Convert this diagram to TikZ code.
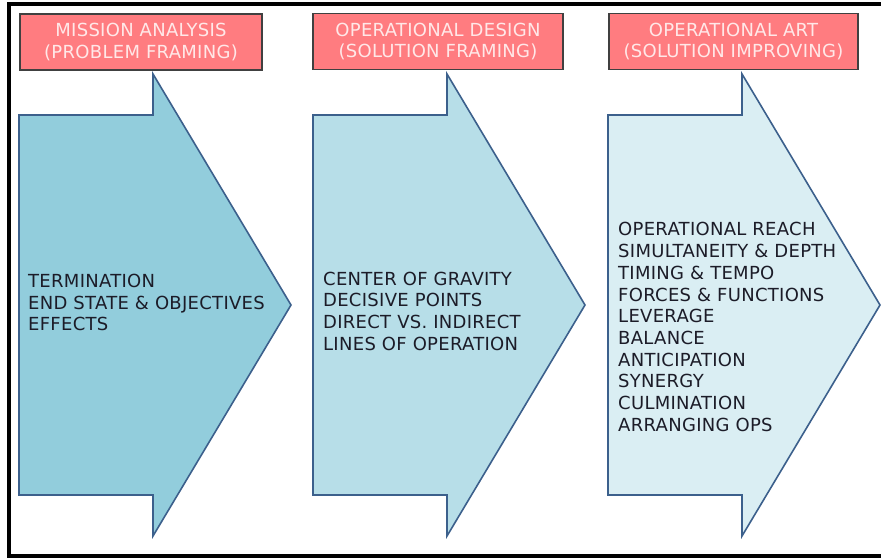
\documentclass[tikz,border=0pt]{standalone}
\usepackage{fontspec}
\setmainfont{DejaVu Sans}[LetterSpace=1.6]
\usepackage{xcolor}
\definecolor{phaseone}{RGB}{146,205,220}
\definecolor{phasetwo}{RGB}{183,222,232}
\definecolor{phasethree}{RGB}{218,238,243}
\definecolor{phaseedge}{RGB}{60,96,140}
\definecolor{bannerred}{RGB}{255,124,128}
\definecolor{banneredge}{RGB}{64,64,64}
\definecolor{bannertext}{RGB}{255,232,232}
\definecolor{itemtext}{RGB}{28,28,40}
\usepackage{tikz}
\newcommand{\bodylength}{134}
\newcommand{\headlength}{138}
\newcommand{\headextend}{41}
\newcommand{\headhalf}{231}
\newcommand{\phasearrow}[2]{%
    \draw[phase, fill=#2] (#1,115) -- ++(\bodylength,0) -- ++(0,-\headextend)
        -- ++(\headlength,\headhalf) -- ++(-\headlength,\headhalf) -- ++(0,-\headextend)
        -- ++(-\bodylength,0) -- cycle;}
\tikzset{
    frame/.style={draw=black, line width=4pt},
    phase/.style={draw=phaseedge, line width=1.6pt, line join=miter},
    banner/.style={draw=banneredge, fill=bannerred, line width=1.2pt, rectangle, minimum height=56pt,
        align=center, text=bannertext, font=\fontsize{18}{21.5}\selectfont, inner sep=0pt},
    items/.style={anchor=west, align=left, text=itemtext, font=\fontsize{18}{21.7}\selectfont, inner sep=0pt}
}
\begin{document}
\begin{tikzpicture}[x=1pt, y=-1pt]
    \useasboundingbox (0,0) rectangle (881,558);
    \draw[frame] (9,3.5) rectangle (900,555.5);

    \phasearrow{19}{phaseone}
    \phasearrow{313}{phasetwo}
    \phasearrow{608}{phasethree}

    \path
        node[banner, minimum width=242pt] (MA) at (141,42) {MISSION ANALYSIS\\(PROBLEM FRAMING)}
        node[banner, minimum width=250pt] (OD) at (438,41.5) {OPERATIONAL DESIGN\\(SOLUTION FRAMING)}
        node[banner, minimum width=249pt] (OA) at (733.5,41.5) {OPERATIONAL ART\\(SOLUTION IMPROVING)};

    \path
        node[items] (MAitems) at (28,302.5) {TERMINATION\\END STATE \& OBJECTIVES\\EFFECTS}
        node[items] (ODitems) at (323,311) {CENTER OF GRAVITY\\DECISIVE POINTS\\DIRECT VS. INDIRECT\\LINES OF OPERATION}
        node[items] (OAitems) at (618,327) {OPERATIONAL REACH\\SIMULTANEITY \& DEPTH\\TIMING \& TEMPO\\FORCES \& FUNCTIONS\\LEVERAGE\\BALANCE\\ANTICIPATION\\SYNERGY\\CULMINATION\\ARRANGING OPS};
\end{tikzpicture}
\end{document}
